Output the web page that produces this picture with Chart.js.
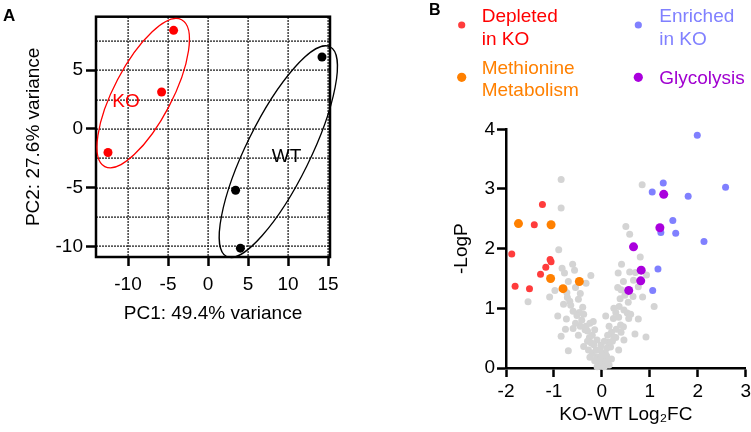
<!DOCTYPE html>
<html><head><meta charset="utf-8">
<script src="https://cdn.jsdelivr.net/npm/chart.js@4.4.1/dist/chart.umd.min.js"></script>
<style>
html,body{margin:0;padding:0;background:#fff;width:751px;height:432px;overflow:hidden}
#a{position:absolute;left:0;top:0}
#b{position:absolute;left:375px;top:0}
</style></head><body>
<canvas id="a" width="375" height="432"></canvas>
<canvas id="b" width="376" height="432"></canvas>
<script>
// ---------- Panel A data (PCA) ----------
const pcaTicksX = [-10, -5, 0, 5, 10, 15];
const pcaTicksY = [-10, -5, 0, 5];
const pcaGridX = [-10, -5, 0, 5, 10, 15];
const pcaGridY = [-10, -7.5, -5, -2.5, 0, 2.5, 5, 7.5];
const koPC1 = [-4.3, -5.8, -12.5];
const koPC2 = [8.4, 3.15, -2.0];
const wtPC1 = [14.25, 3.45, 4.05];
const wtPC2 = [6.13, -5.22, -10.15];
// group ellipses: centre, end of major axis, minor/major ratio (data units)
const koEllipse = [-8.1, 3.05, -3.3, 9.3, 0.35];
const wtEllipse = [8.79, -1.93, 15.25, 7.0, 0.273];
const groupLabels = ['KO', 'WT'];
const groupLabelPos = [[-10.25, 2.28], [9.81, -2.36]];

// ---------- Panel B data (volcano) ----------
const volcTicksX = [-2, -1, 0, 1, 2, 3];
const volcTicksY = [0, 1, 2, 3, 4];
const depletedFC = [-1.24, -1.41, -1.88, -1.08, -1.06, -1.17, -1.28, -1.81, -1.51];
const depletedP  = [2.74, 2.40, 1.91, 1.82, 1.78, 1.69, 1.57, 1.37, 1.33];
const enrichedFC = [1.99, 1.28, 1.05, 2.58, 1.80, 1.48, 1.54, 1.23, 2.13, 1.17, 1.06];
const enrichedP  = [3.90, 3.10, 2.95, 3.03, 2.88, 2.47, 2.26, 2.27, 2.12, 1.66, 1.30];
const methFC = [-1.74, -1.06, -1.07, -0.47, -0.81];
const methP  = [2.42, 2.40, 1.50, 1.45, 1.33];
const glycFC = [1.29, 1.21, 0.66, 0.82, 0.81, 0.56];
const glycP  = [2.91, 2.35, 2.03, 1.64, 1.46, 1.30];
const otherFC = [-0.85,-0.85,0.84,0.50,0.58,-0.90,0.80,-0.61,-0.83,-0.57,0.41,0.58,-0.78,-0.23,0.34,0.66,0.93,-0.33,0.33,0.76,
  -0.98,-0.73,0.40,-1.54,-1.09,-0.72,-0.49,-0.67,-0.80,0.38,0.85,1.09,0.36,0.53,-0.47,-0.38,-0.92,0.29,0.46,-0.42,
  -0.74,0.08,0.24,0.56,0.76,0.39,0.45,-0.76,-0.60,-0.35,-0.15,0.69,0.92,-0.85,-0.49,-0.26,-0.10,0.14,0.29,0.46,
  -0.70,-0.38,-0.17,-0.04,0.35,0.07,-0.11,-0.30,-0.22,-0.28,-0.20,-0.15,-0.08,-0.03,0.02,0.05,0.10,0.12,-0.05,0.00,
  -0.12,0.18,0.22,0.10,-0.02,0.05,-0.20,-0.30,0.20,0.30,-0.45,-0.55,0.15,0.35,-0.25,-0.60,0.25,0.55,0.65,-0.55,
  0.70,-0.70,-0.65,0.45,0.20,-0.25,0.05,-0.10,0.15,-0.40,-0.33,0.25,0.12,-0.18,0.40,-0.52,0.60,-0.45,0.48];
const otherP = [3.16,2.68,3.07,2.37,2.24,1.98,1.86,1.74,1.67,1.64,1.74,1.61,1.59,1.55,1.59,1.47,1.56,1.42,1.35,1.36,
  1.30,1.26,1.31,1.11,1.19,1.18,1.15,1.12,1.07,1.16,1.19,1.03,1.03,0.92,0.93,0.90,0.87,0.93,0.97,0.80,
  0.82,0.87,0.83,0.83,0.82,0.72,0.69,0.65,0.66,0.64,0.64,0.57,0.52,0.53,0.55,0.51,0.47,0.43,0.51,0.47,
  0.29,0.36,0.39,0.30,0.30,0.25,0.19,0.45,0.42,0.30,0.25,0.12,0.08,0.03,0.06,0.15,0.20,0.10,0.14,0.22,
  0.30,0.35,0.45,0.33,0.38,0.45,0.55,0.62,0.60,0.65,0.70,0.75,0.70,0.85,0.75,0.95,1.00,1.10,1.20,1.35,
  1.60,1.45,1.05,1.45,0.15,0.18,0.02,0.02,0.05,1.02,0.70,0.52,0.55,0.78,0.60,0.88,0.90,1.25,1.22];
const legendLabels = [['Depleted', 'in KO'], ['Enriched', 'in KO'], ['Methionine', 'Metabolism'], ['Glycolysis']];

const FONT = "'Liberation Sans', Arial, Helvetica, sans-serif";
Chart.defaults.font.family = FONT;
Chart.defaults.color = '#000';
const pts = (xs, ys) => xs.map((x, i) => ({x: x, y: ys[i]}));

// ---------- Panel A ----------
const pcaPlugin = {
  id: 'pcaDecor',
  beforeDatasetsDraw(chart) {
    const {ctx, chartArea: ca, scales} = chart;
    const sx = scales.x, sy = scales.y;
    ctx.save();
    ctx.fillStyle = '#111';
    pcaGridX.forEach(v => {
      const px = Math.round(sx.getPixelForValue(v));
      for (let yy = Math.ceil(ca.top); yy < ca.bottom; yy += 3) ctx.fillRect(px - 0.5, yy, 1.2, 2);
    });
    pcaGridY.forEach(v => {
      const py = Math.round(sy.getPixelForValue(v));
      for (let xx = Math.ceil(ca.left); xx < ca.right; xx += 3) ctx.fillRect(xx, py - 0.5, 2, 1.2);
    });
    ctx.lineWidth = 2.5;
    ctx.strokeStyle = '#000';
    ctx.strokeRect(ca.left, ca.top, ca.right - ca.left, ca.bottom - ca.top);
    ctx.restore();
  },
  afterDatasetsDraw(chart) {
    const {ctx, scales} = chart;
    const sx = scales.x, sy = scales.y;
    ctx.save();
    [[koEllipse, '#ff0000'], [wtEllipse, '#000000']].forEach(([e, col]) => {
      const cx = sx.getPixelForValue(e[0]), cy = sy.getPixelForValue(e[1]);
      const ex = sx.getPixelForValue(e[2]), ey = sy.getPixelForValue(e[3]);
      const a = Math.hypot(ex - cx, ey - cy);
      const ang = Math.atan2(ey - cy, ex - cx);
      ctx.beginPath();
      ctx.ellipse(cx, cy, a, a * e[4], ang, 0, Math.PI * 2);
      ctx.strokeStyle = col;
      ctx.lineWidth = 1.3;
      ctx.stroke();
    });
    ctx.font = '19px ' + FONT;
    ctx.textAlign = 'center';
    ctx.textBaseline = 'middle';
    groupLabels.forEach((t, i) => {
      ctx.fillStyle = i === 0 ? '#ff0000' : '#000';
      ctx.fillText(t, sx.getPixelForValue(groupLabelPos[i][0]), sy.getPixelForValue(groupLabelPos[i][1]));
    });
    ctx.restore();
  },
  afterDraw(chart) {
    const ctx = chart.ctx;
    ctx.save();
    ctx.font = 'bold 17px ' + FONT;
    ctx.fillStyle = '#000';
    ctx.textBaseline = 'alphabetic';
    ctx.fillText('A', 3, 20.5);
    ctx.restore();
  }
};

new Chart(document.getElementById('a'), {
  type: 'scatter',
  data: {datasets: [
    {data: pts(koPC1, koPC2), backgroundColor: '#ff0000', borderWidth: 0, pointRadius: 4.5},
    {data: pts(wtPC1, wtPC2), backgroundColor: '#000000', borderWidth: 0, pointRadius: 4.5}
  ]},
  options: {
    responsive: false, animation: false,
    layout: {padding: {left: 22.6, top: 16.7, right: 45, bottom: 106.6}},
    plugins: {legend: {display: false}, tooltip: {enabled: false}},
    scales: {
      x: {
        type: 'linear', min: -14, max: 15.25,
        afterBuildTicks: s => { s.ticks = pcaTicksX.map(v => ({value: v})); },
        afterFit: s => { s.height = 68.4; s.paddingLeft = 0; s.paddingRight = 0; },
        grid: {drawOnChartArea: false, drawTicks: true, tickLength: 9, tickWidth: 2.5, tickColor: '#000'},
        border: {display: false},
        ticks: {font: {size: 19}, padding: 7.6, maxRotation: 0, autoSkip: false, color: '#000'},
        title: {display: true, text: 'PC1: 49.4% variance', font: {size: 19}, color: '#000', padding: {top: 0, bottom: 0}}
      },
      y: {
        type: 'linear', min: -10.9, max: 9.56,
        afterBuildTicks: s => { s.ticks = pcaTicksY.map(v => ({value: v})); },
        afterFit: s => { s.width = 73.4; s.paddingTop = 0; s.paddingBottom = 0; },
        grid: {drawOnChartArea: false, drawTicks: true, tickLength: 10, tickWidth: 2.5, tickColor: '#000'},
        border: {display: false},
        ticks: {font: {size: 19}, padding: 3, autoSkip: false, color: '#000'},
        title: {display: true, text: 'PC2: 27.6% variance', font: {size: 19}, color: '#000', padding: {top: 0, bottom: 0}}
      }
    }
  },
  plugins: [pcaPlugin]
});

// ---------- Panel B ----------
const legendColors = ['#ff3c3c', '#8080ff', '#ff8000', '#aa00dd'];
const legendTextColors = ['#ff0000', '#8080ff', '#ff8000', '#a000d0'];
const volcPlugin = {
  id: 'volcDecor',
  afterDraw(chart) {
    const ctx = chart.ctx;
    ctx.save();
    ctx.font = 'bold 16px ' + FONT;
    ctx.fillStyle = '#000';
    ctx.textBaseline = 'alphabetic';
    ctx.fillText('B', 54, 15);
    const pos = [[86.7, 25, 106.7, 21.7, 3.6], [263.3, 25, 284.3, 21.7, 3.6], [86.7, 77.3, 106.7, 73.6, 4.6], [263.3, 77.3, 284.3, 84.3, 4.6]];
    ctx.font = '19px ' + FONT;
    legendLabels.forEach((lines, i) => {
      const p = pos[i];
      ctx.beginPath();
      ctx.arc(p[0], p[1], p[4], 0, Math.PI * 2);
      ctx.fillStyle = legendColors[i];
      ctx.fill();
      ctx.fillStyle = legendTextColors[i];
      lines.forEach((t, j) => ctx.fillText(t, p[2], p[3] + j * 22.8));
    });
    ctx.restore();
  }
};

new Chart(document.getElementById('b'), {
  type: 'scatter',
  data: {datasets: [
    {data: pts(glycFC, glycP), backgroundColor: '#aa00dd', borderWidth: 0, pointRadius: 4.5, order: 1},
    {data: pts(methFC, methP), backgroundColor: '#ff8000', borderWidth: 0, pointRadius: 4.5, order: 2},
    {data: pts(enrichedFC, enrichedP), backgroundColor: '#8080ff', borderWidth: 0, pointRadius: 3.5, order: 3},
    {data: pts(depletedFC, depletedP), backgroundColor: '#ff3c3c', borderWidth: 0, pointRadius: 3.5, order: 4},
    {data: pts(otherFC, otherP), backgroundColor: '#d4d4d4', borderWidth: 0, pointRadius: 3.5, order: 5}
  ]},
  options: {
    responsive: false, animation: false, clip: false,
    layout: {padding: {left: 75.6, top: 129.3, right: 5.3, bottom: 6}},
    plugins: {legend: {display: false}, tooltip: {enabled: false}},
    scales: {
      x: {
        type: 'linear', min: -2, max: 3,
        afterBuildTicks: s => { s.ticks = volcTicksX.map(v => ({value: v})); },
        afterFit: s => { s.height = 58; s.paddingLeft = 0; s.paddingRight = 0; },
        grid: {drawOnChartArea: false, drawTicks: true, tickLength: 9, tickWidth: 2.5, tickColor: '#000'},
        border: {display: true, width: 2.5, color: '#000'},
        ticks: {font: {size: 19}, padding: 3, maxRotation: 0, autoSkip: false, color: '#000'},
        title: {display: true, text: 'KO-WT Log\u2082FC', font: {size: 19}, color: '#000', padding: {top: 0, bottom: 0}}
      },
      y: {
        type: 'linear', min: 0, max: 4,
        afterBuildTicks: s => { s.ticks = volcTicksY.map(v => ({value: v})); },
        afterFit: s => { s.width = 55.4; s.paddingTop = 0; s.paddingBottom = 0; },
        grid: {drawOnChartArea: false, drawTicks: true, tickLength: 9, tickWidth: 2.5, tickColor: '#000'},
        border: {display: true, width: 2.5, color: '#000'},
        ticks: {font: {size: 19}, padding: 2, autoSkip: false, color: '#000'},
        title: {display: true, text: '-LogP', font: {size: 19}, color: '#000', padding: {top: 0, bottom: 0}}
      }
    }
  },
  plugins: [volcPlugin]
});
</script>
</body></html>
